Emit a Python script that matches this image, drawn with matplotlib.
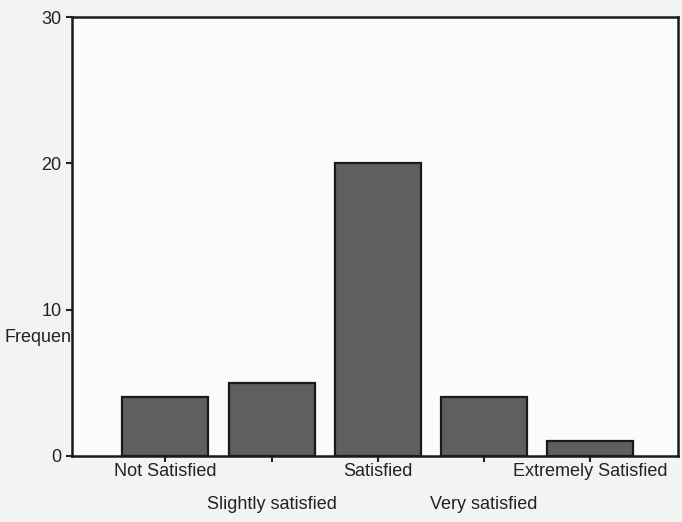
import matplotlib
matplotlib.use("Agg")
import matplotlib.pyplot as plt
import numpy as np

categories = ["Not Satisfied", "Slightly satisfied", "Satisfied",
              "Very satisfied", "Extremely Satisfied"]
frequency = [4, 5, 20, 4, 1]
y_ticks = [0, 10, 20, 30]

plt.rcParams["font.family"] = ["Liberation Sans", "DejaVu Sans"]
FS = 13

fig = plt.figure(figsize=(6.82, 5.22), dpi=100)
fig.patch.set_facecolor("#f3f3f1")
ax = fig.add_axes([72 / 682, 1 - 456 / 522, 606 / 682, 439 / 522])
ax.set_facecolor("#fbfbfa")

x = np.arange(len(categories))
ax.bar(x, frequency, width=0.81, color="#5f5f5f", edgecolor="#1a1a1a",
       linewidth=1.6, zorder=2)

ax.set_xlim(-0.88, len(categories) - 0.17)
ax.set_ylim(0, 30)
ax.set_yticks(y_ticks)
ax.set_yticklabels([str(v) for v in y_ticks], fontsize=FS, color="#222222")
ax.set_xticks(x)
ax.set_xticklabels([])
ax.tick_params(axis="both", direction="out", length=4, width=1.5,
               color="#222222")
for s in ax.spines.values():
    s.set_linewidth(1.8)
    s.set_color("#1a1a1a")

# staggered category labels
for i, name in enumerate(categories):
    offset = 0.035 if i % 2 == 0 else 0.11
    ax.text(i, -offset, name, transform=ax.get_xaxis_transform(),
            ha="center", va="center", fontsize=FS, color="#222222")

# axis title sits behind the plot area, which hides its tail
fig.text(5 / 682, 1 - 337 / 522, "Frequency", ha="left", va="center",
         fontsize=FS, color="#222222", zorder=-1)

fig.savefig("out.png", dpi=100, facecolor=fig.get_facecolor())
